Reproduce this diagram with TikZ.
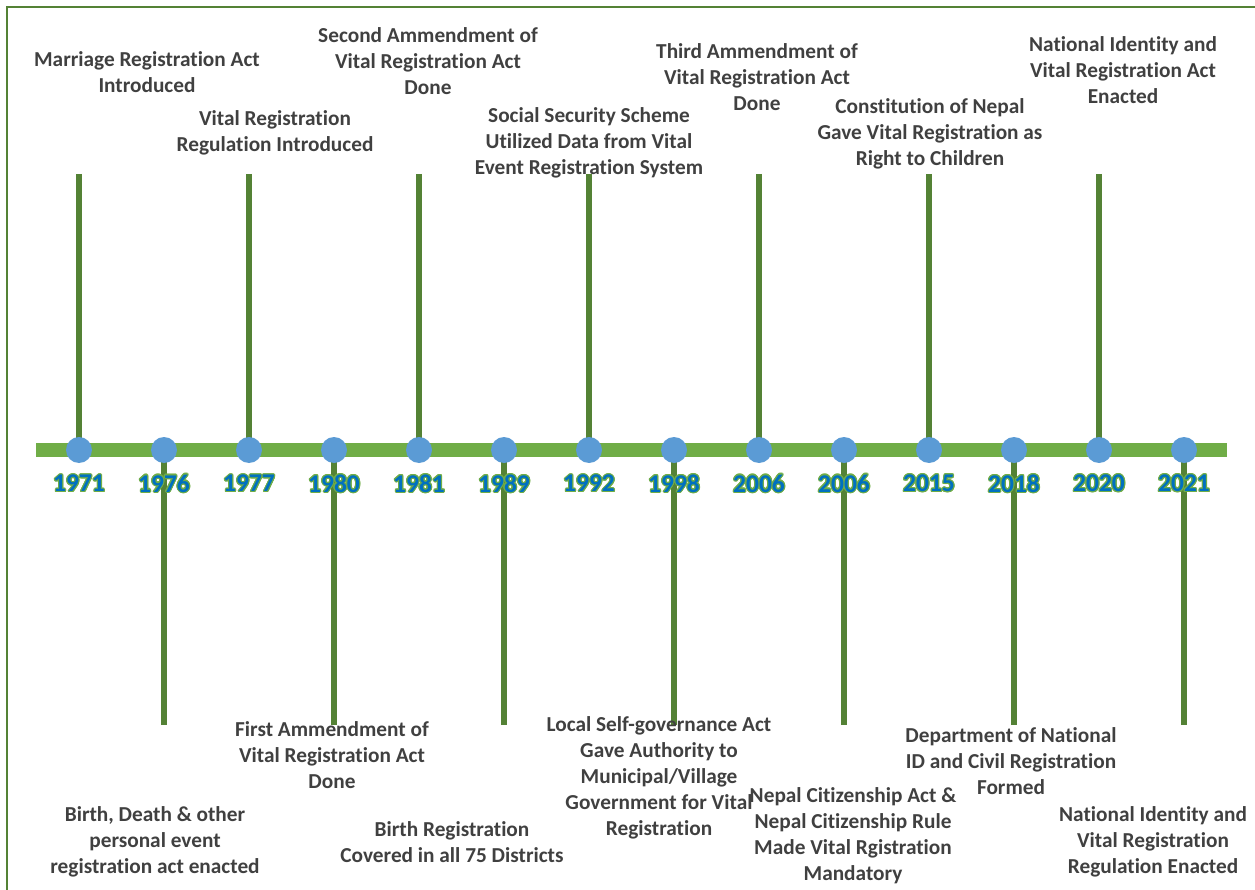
\documentclass[tikz,border=0pt]{standalone}
\usepackage{fontspec}
\setmainfont[Ligatures=NoCommon]{Carlito}
\usepackage[copies]{contour}
\contourlength{1.1pt}
\definecolor{bargreen}{HTML}{70AD47}
\definecolor{stemgreen}{HTML}{548235}
\definecolor{dotblue}{HTML}{5B9BD5}
\definecolor{yearblue}{HTML}{0070C0}
\definecolor{txtgray}{HTML}{404040}
\begin{document}
\begin{tikzpicture}[x=1pt,y=-1pt,
  lbl/.style={align=center,inner sep=0pt,text=txtgray,font=\fontsize{21.3}{26}\selectfont\bfseries},
  yr/.style={inner sep=0pt,text=yearblue,font=\fontsize{25.5}{28}\selectfont\bfseries},
  dot/.style={circle,fill=dotblue,minimum size=26pt,inner sep=0pt},
  stem/.style={draw=stemgreen,line width=5.5pt},
  bar/.style={draw=bargreen,line width=14pt}]
\useasboundingbox (0,0) rectangle (1255,890);
\draw[stemgreen,line width=2pt] (7,890) -- (7,7) -- (1255,7);
% stem end coordinates
\coordinate (e1) at (79,174);
\coordinate (e2) at (164,725);
\coordinate (e3) at (249,174);
\coordinate (e4) at (334,725);
\coordinate (e5) at (419,174);
\coordinate (e6) at (504,725);
\coordinate (e7) at (589,174);
\coordinate (e8) at (674,725);
\coordinate (e9) at (759,174);
\coordinate (e10) at (844,725);
\coordinate (e11) at (929,174);
\coordinate (e12) at (1014,725);
\coordinate (e13) at (1099,174);
\coordinate (e14) at (1184,725);
% dot positions (drawn later)
\coordinate (p1) at (79,450);
\coordinate (p2) at (164,450);
\coordinate (p3) at (249,450);
\coordinate (p4) at (334,450);
\coordinate (p5) at (419,450);
\coordinate (p6) at (504,450);
\coordinate (p7) at (589,450);
\coordinate (p8) at (674,450);
\coordinate (p9) at (759,450);
\coordinate (p10) at (844,450);
\coordinate (p11) at (929,450);
\coordinate (p12) at (1014,450);
\coordinate (p13) at (1099,450);
\coordinate (p14) at (1184,450);
% stems
\foreach \i in {1,...,14} {\draw[stem] (e\i) -- (p\i);}
% main bar
\coordinate (barL) at (36,450);
\coordinate (barR) at (1227,450);
\draw[bar] (barL) -- (barR);
% dots
\foreach \i in {1,...,14} {\node[dot] (c\i) at (p\i) {};}
% years
\node[yr] (y1) at (79,484) {\contour{bargreen}{1971}};
\node[yr] (y2) at (164,484) {\contour{bargreen}{1976}};
\node[yr] (y3) at (249,484) {\contour{bargreen}{1977}};
\node[yr] (y4) at (334,484) {\contour{bargreen}{1980}};
\node[yr] (y5) at (419,484) {\contour{bargreen}{1981}};
\node[yr] (y6) at (504,484) {\contour{bargreen}{1989}};
\node[yr] (y7) at (589,484) {\contour{bargreen}{1992}};
\node[yr] (y8) at (674,484) {\contour{bargreen}{1998}};
\node[yr] (y9) at (759,484) {\contour{bargreen}{2006}};
\node[yr] (y10) at (844,484) {\contour{bargreen}{2006}};
\node[yr] (y11) at (929,484) {\contour{bargreen}{2015}};
\node[yr] (y12) at (1014,484) {\contour{bargreen}{2018}};
\node[yr] (y13) at (1099,484) {\contour{bargreen}{2020}};
\node[yr] (y14) at (1184,484) {\contour{bargreen}{2021}};
% top labels
\node[lbl] (l1) at (147,72) {Marriage Registration Act\\Introduced};
\node[lbl] (l3) at (275,133) {Vital Registration\\Regulation Introduced};
\node[lbl] (l5) at (428,61) {Second Ammendment of\\Vital Registration Act\\Done};
\node[lbl] (l7) at (589,143) {Social Security Scheme\\Utilized Data from Vital\\Event Registration System};
\node[lbl] (l9) at (757,77) {Third Ammendment of\\Vital Registration Act\\Done};
\node[lbl] (l11) at (930,134) {Constitution of Nepal\\Gave Vital Registration as\\Right to Children};
\node[lbl] (l13) at (1123,70) {National Identity and\\Vital Registration Act\\Enacted};
% bottom labels
\node[lbl] (l2) at (155,842) {Birth, Death \& other\\personal event\\registration act enacted};
\node[lbl] (l4) at (332,755) {First Ammendment of\\Vital Registration Act\\Done};
\node[lbl] (l6) at (452,842) {Birth Registration\\Covered in all 75 Districts};
\node[lbl] (l8) at (659,778) {Local Self-governance Act\\Gave Authority to\\Municipal/Village\\Government for Vital\\Registration};
\node[lbl] (l10) at (853,836) {Nepal Citizenship Act \&\\Nepal Citizenship Rule\\Made Vital Rgistration\\Mandatory};
\node[lbl] (l12) at (1011,761) {Department of National\\ID and Civil Registration\\Formed};
\node[lbl] (l14) at (1153,842) {National Identity and\\Vital Registration\\Regulation Enacted};
\end{tikzpicture}
\end{document}
